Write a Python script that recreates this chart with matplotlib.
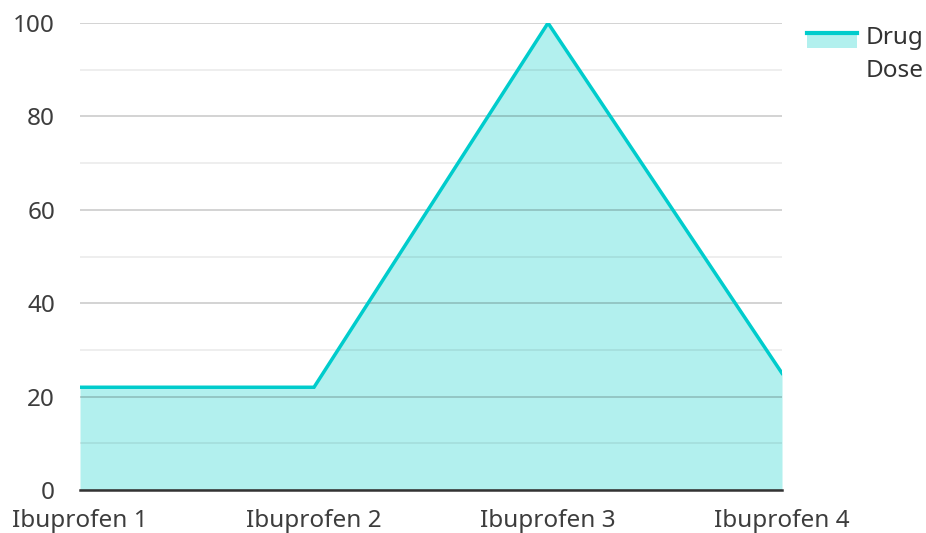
import matplotlib.pyplot as plt
from matplotlib.legend_handler import HandlerBase
from matplotlib.patches import Rectangle
from matplotlib.lines import Line2D

plt.rcParams['font.family'] = ['Noto Sans', 'DejaVu Sans']

categories = ['Ibuprofen 1', 'Ibuprofen 2', 'Ibuprofen 3', 'Ibuprofen 4']
dose = [22, 22, 100, 25]
series_name = 'Drug\nDose'

line_color = '#00CCCC'
fill_color = '#B2F0EE'


class AreaHandler(HandlerBase):
    # filled box with the line along its top edge, lifted to the first text line
    def create_artists(self, legend, orig_handle, xdescent, ydescent,
                       width, height, fontsize, trans):
        lift = 0.6 * fontsize
        y0 = -ydescent + lift
        rect = Rectangle((-xdescent, y0), width, height,
                         facecolor=fill_color, edgecolor='none', transform=trans)
        top = y0 + height
        ln = Line2D([-xdescent, -xdescent + width], [top, top],
                    color=line_color, linewidth=3, transform=trans)
        return [rect, ln]


fig = plt.figure(figsize=(9.26, 5.33), dpi=100)
ax = fig.add_axes([0.0864, 0.0807, 0.7581, 0.8761])

x = list(range(len(categories)))
area = ax.fill_between(x, dose, 0, color=fill_color, linewidth=0, zorder=1)
line, = ax.plot(x, dose, color=line_color, linewidth=2.5, zorder=3,
                solid_joinstyle='miter')

ax.set_xlim(0, len(categories) - 1)
ax.set_ylim(0, 100)
ax.set_xticks(x)
ax.set_xticklabels(categories)
ax.set_yticks([0, 20, 40, 60, 80, 100])
ax.set_yticks([10, 30, 50, 70, 90], minor=True)

ax.set_axisbelow(False)
ax.grid(axis='y', which='major', color='#000000', alpha=0.2, linewidth=1.2)
ax.grid(axis='y', which='minor', color='#000000', alpha=0.08, linewidth=1.2)
ax.grid(axis='x', visible=False)

for s in ['top', 'right', 'left']:
    ax.spines[s].set_visible(False)
ax.spines['bottom'].set_color('#333333')
ax.spines['bottom'].set_linewidth(1.8)
ax.spines['bottom'].set_zorder(4)

ax.tick_params(axis='both', which='both', length=0, labelsize=17.5,
               labelcolor='#3d3d3d')
ax.tick_params(axis='y', pad=18)
ax.tick_params(axis='x', pad=14)
for lbl in ax.get_yticklabels():
    lbl.set_horizontalalignment('right')

leg = ax.legend([area], [series_name], handler_map={type(area): AreaHandler()},
                loc='upper left', bbox_to_anchor=(807 / 926, 1 - 26 / 533),
                bbox_transform=fig.transFigure, frameon=False,
                borderpad=0, borderaxespad=0,
                fontsize=17.5, handlelength=2.06, handleheight=0.57,
                handletextpad=0.37, labelcolor='#333333')
leg.get_texts()[0].set_linespacing(1.5)

fig.savefig('out.png', dpi=100)
